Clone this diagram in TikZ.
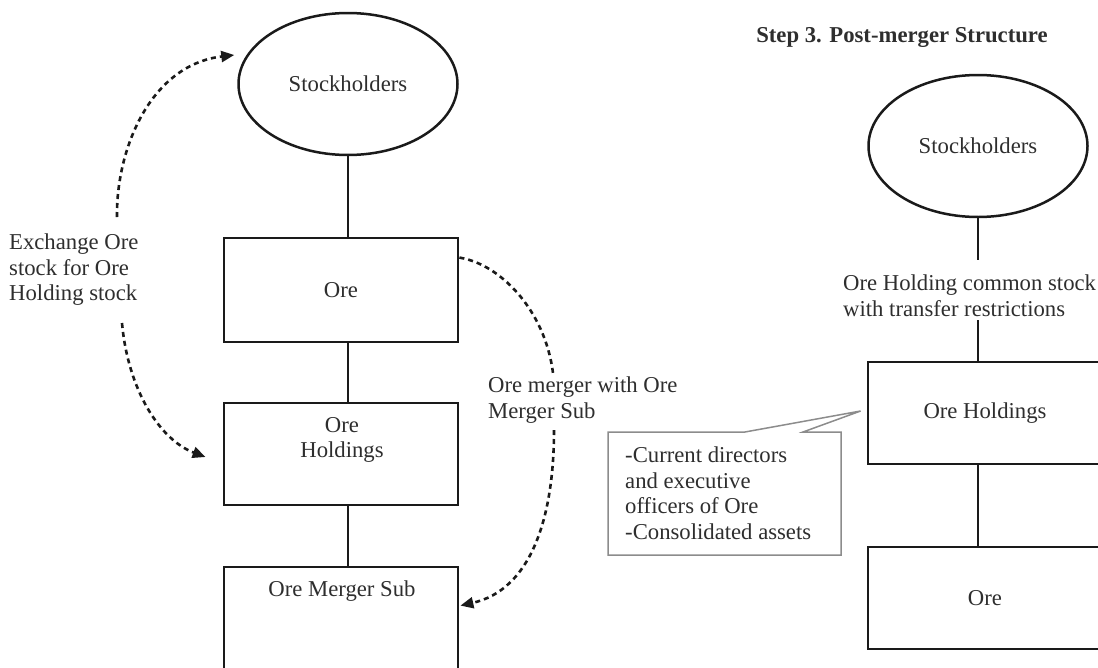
\documentclass[tikz,border=0pt]{standalone}
\usepackage{fontspec}
\setmainfont{Liberation Serif}
\usetikzlibrary{arrows.meta,shapes.geometric,calc}
\definecolor{ink}{HTML}{1A1A1A}
\definecolor{txtc}{HTML}{2E2E2E}
\definecolor{callgray}{HTML}{8C8C8C}
\begin{document}
\begin{tikzpicture}[x=1pt,y=-1pt,
  font=\fontsize{22.7}{25.7}\selectfont, text=txtc,
  box/.style={draw=ink, line width=2.8pt, rectangle, minimum width=234pt, inner sep=0pt},
  ell/.style={draw=ink, line width=2.5pt, ellipse, minimum width=219pt, minimum height=142pt, inner sep=0pt},
  conn/.style={draw=ink, line width=2.9pt},
  dline/.style={draw=ink, line width=2.6pt, dash pattern=on 5pt off 4pt},
  dconn/.style={dline, -{Triangle[length=13pt,width=11pt]}},
  lbl/.style={anchor=north west, align=left, inner sep=0pt},
  callout/.style={draw=callgray, line width=1.5pt}]
\clip (0,0) rectangle (1098,667);
% ---------- left structure ----------
\node[ell] (shA) at (348,84) {Stockholders};
\node[box, minimum height=104pt] (oreA) at (341,290) {Ore};
\node[box, minimum height=102pt] (holdA) at (341,454) {};
\node[align=center, inner sep=0pt] (holdAt) at (342,440) {Ore\\Holdings};
\node[box, minimum height=140pt] (subA) at (341,637) {};
\node[inner sep=0pt] (subAt) at (342,591) {Ore Merger Sub};
\draw[conn] (shA.south) -- (shA.south |- oreA.north);
\draw[conn] (shA.south |- oreA.south) -- (shA.south |- holdA.north);
\draw[conn] (shA.south |- holdA.south) -- (shA.south |- subA.north);
% exchange label and arcs
\node[lbl] (exch) at (9,233.5) {Exchange Ore\\stock for Ore\\Holding stock};
\coordinate (a1) at (117,217);
\coordinate (a2) at (122,323);
\draw[dconn] (a1) .. controls (116,150) and (150,65) .. ($(shA.west)+(-3,-29)$);
\draw[dconn] (a2) .. controls (128,390) and (160,440) .. ($(holdA.west)+(-17,3)$);
% merger label and arcs
\node[lbl] (mrg) at (488,376.5) {Ore merger with Ore\\Merger Sub};
\coordinate (b1) at (553,373);
\coordinate (b2) at (554,430);
\draw[dline] ($(oreA.north east)+(0,21)$) .. controls (500,264) and (545,310) .. (b1);
\draw[dconn] (b2) .. controls (554,520) and (530,590) .. ($(subA.north east)+(1,40)$);
% ---------- right structure ----------
\node[inner sep=0pt, font=\fontsize{22.7}{25.7}\selectfont\bfseries] (title) at (902,37) {Step 3. Post-merger Structure};
\node[ell] (shB) at (978,146) {Stockholders};
\node[box, minimum height=102pt] (holdB) at (985,413) {Ore Holdings};
\node[box, minimum height=102pt] (oreB) at (985,598) {Ore};
\node[lbl] (stk) at (843,274.5) {Ore Holding common stock\\with transfer restrictions};
\coordinate (l1) at (978,260);
\coordinate (l2) at (978,320);
\draw[conn] (shB.south) -- (l1);
\draw[conn] (l2) -- (l2 |- holdB.north);
\draw[conn] (shB.south |- holdB.south) -- (shB.south |- oreB.north);
% callout
\coordinate (ptip) at ($(holdB.west)+(-6,-2)$);
\draw[callout] (608,432) -- (745,432) -- (ptip) -- (803,432) -- (841,432) -- (841,555) -- (608,555) -- cycle;
\node[lbl] (cot) at (625,446.5) {-Current directors\\and executive\\officers of Ore\\-Consolidated assets};
\end{tikzpicture}
\end{document}
